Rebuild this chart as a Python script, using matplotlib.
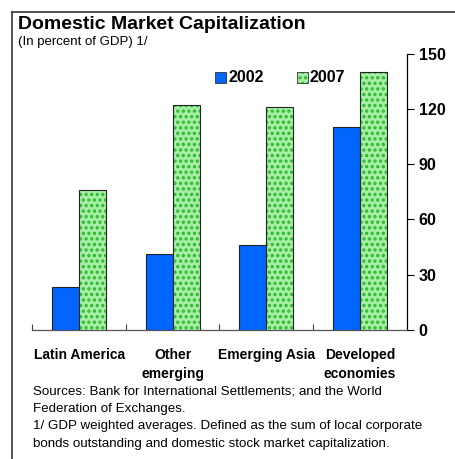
import matplotlib
matplotlib.use("Agg")
import matplotlib.pyplot as plt
import numpy as np
from matplotlib.lines import Line2D
from matplotlib.patches import Rectangle

plt.rcParams['font.family'] = ['Liberation Sans', 'DejaVu Sans']
plt.rcParams['hatch.linewidth'] = 1.6

categories = ["Latin America", "Other\nemerging", "Emerging Asia", "Developed\neconomies"]
series_names = ["2002", "2007"]
values_2002 = [23.5, 41.5, 46, 110]
values_2007 = [76, 122, 121, 140]
yticks = [0, 30, 60, 90, 120, 150]

title = "Domestic Market Capitalization"
subtitle = "(In percent of GDP) 1/"
footnotes = ["Sources: Bank for International Settlements; and the World",
             "Federation of Exchanges.",
             "1/ GDP weighted averages. Defined as the sum of local corporate",
             "bonds outstanding and domestic stock market capitalization."]

W, H = 456, 459
fig = plt.figure(figsize=(W / 100, H / 100), dpi=100)
ax = fig.add_axes([32.3 / W, 1 - 330 / H, (406.7 - 32.3) / W, (330 - 53.5) / H])

x = np.arange(len(categories))
bw = 0.29
blue = "#0066ff"
green_face = "#a6f0a6"
green_hatch = "#2fb52f"

ax.bar(x - bw / 2, values_2002, width=bw, color=blue, edgecolor="#222222", linewidth=0.8, zorder=3)
bars = ax.bar(x + bw / 2, values_2007, width=bw, color=green_face, edgecolor="#222222",
              linewidth=0.8, zorder=3)
for b in bars:
    b.set_hatch("...")
    b._hatch_color = matplotlib.colors.to_rgba(green_hatch)

ax.set_xlim(-0.5, 3.5)
ax.set_ylim(0, 150)
ax.yaxis.tick_right()
ax.set_yticks(yticks)
ax.set_yticklabels([str(v) for v in yticks], fontsize=11.5, fontweight="bold")
ax.tick_params(axis="y", direction="out", length=5, width=0.8, pad=3.5, colors="black")
ax.set_xticks([-0.5, 0.5, 1.5, 2.5])
ax.set_xticklabels([])
ax.tick_params(axis="x", direction="in", length=4, width=0.8, color="#444444")
for s in ["left", "top"]:
    ax.spines[s].set_visible(False)
ax.spines["right"].set_linewidth(0.9)
ax.spines["bottom"].set_color("#555555")
ax.spines["bottom"].set_linewidth(0.9)

for xi, lab in zip(x, categories):
    ax.text(xi, -0.065, lab, transform=ax.get_xaxis_transform(), ha="center", va="top",
            fontsize=10, fontweight="bold", linespacing=1.42)

# frame lines (left and top)
fig.add_artist(Line2D([12 / W, 12 / W], [0, 1 - 12 / H], transform=fig.transFigure,
                      color="#333333", linewidth=1.2))
fig.add_artist(Line2D([12 / W, 1], [1 - 12 / H, 1 - 12 / H], transform=fig.transFigure,
                      color="#333333", linewidth=1.2))

fig.text(18 / W, 1 - 24.5 / H, title, fontsize=14, fontweight="bold", va="center", ha="left")
fig.text(18 / W, 1 - 42 / H, subtitle, fontsize=9.5, va="center", ha="left")

# legend
ly = 1 - 77 / H
fig.add_artist(Rectangle((215 / W, 1 - 82.5 / H), 11 / W, 11 / H, transform=fig.transFigure,
                         facecolor=blue, edgecolor="#333333", linewidth=0.6))
fig.text(229 / W, ly, series_names[0], fontsize=11.5, fontweight="bold", va="center", ha="left")
r2 = Rectangle((297 / W, 1 - 82.5 / H), 11 / W, 11 / H, transform=fig.transFigure,
               facecolor=green_face, edgecolor="#333333", linewidth=0.6, hatch="...")
r2._hatch_color = matplotlib.colors.to_rgba(green_hatch)
fig.add_artist(r2)
fig.text(310 / W, ly, series_names[1], fontsize=11.5, fontweight="bold", va="center", ha="left")

for i, line in enumerate(footnotes):
    fig.text(33 / W, 1 - (391 + i * 17.7) / H, line, fontsize=9.6, va="center", ha="left")

fig.savefig("out.png", dpi=100)
